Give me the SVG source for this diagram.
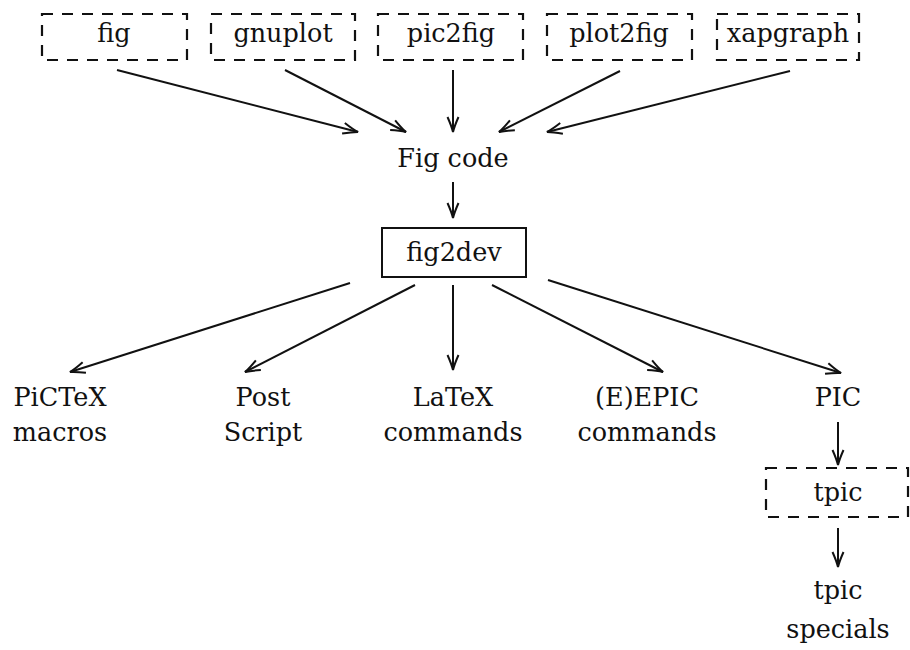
<svg xmlns="http://www.w3.org/2000/svg" width="910" height="650" viewBox="0 0 910 650">
<style>
text{font-family:"DejaVu Serif","Liberation Serif",serif;font-size:25.5px;fill:#111;text-anchor:middle}
.dash{fill:none;stroke:#111;stroke-width:2.2;stroke-dasharray:11 9}
.solid{fill:none;stroke:#111;stroke-width:2}
.conn line{stroke:#111;stroke-width:2;marker-end:url(#ah)}
</style>
<defs>
<marker id="ah" markerUnits="userSpaceOnUse" markerWidth="20" markerHeight="14" viewBox="-16 -7 18 14" refX="0" refY="0" orient="auto">
<path d="M-15,-5.5 Q-6,-1.5 0,0 Q-6,1.5 -15,5.5" fill="none" stroke="#111" stroke-width="2"/>
</marker>
</defs>
<rect width="910" height="650" fill="#fff"/>
<g id="fig"><rect class="dash" x="42" y="14" width="145" height="46"/><text x="114" y="42">fig</text></g>
<g id="gnuplot"><rect class="dash" x="211" y="14" width="144" height="46"/><text x="283" y="42">gnuplot</text></g>
<g id="pic2fig"><rect class="dash" x="378" y="14" width="145" height="46"/><text x="451" y="42">pic2fig</text></g>
<g id="plot2fig"><rect class="dash" x="547" y="14" width="145" height="46"/><text x="619" y="42">plot2fig</text></g>
<g id="xapgraph"><rect class="dash" x="717" y="14" width="142" height="46"/><text x="788" y="42">xapgraph</text></g>
<g id="figcode"><text x="453" y="167">Fig code</text></g>
<g id="fig2dev"><rect class="solid" x="382" y="228" width="144" height="49"/><text x="454" y="261">fig2dev</text></g>
<g id="pictex"><text x="60" y="406">PiCTeX</text><text x="60" y="441">macros</text></g>
<g id="postscript"><text x="263" y="406">Post</text><text x="263" y="441">Script</text></g>
<g id="latex"><text x="453" y="406">LaTeX</text><text x="453" y="441">commands</text></g>
<g id="epic"><text x="647" y="406">(E)EPIC</text><text x="647" y="441">commands</text></g>
<g id="pic"><text x="838" y="406">PIC</text></g>
<g id="tpic"><rect class="dash" x="766" y="468" width="142" height="49"/><text x="838" y="501">tpic</text></g>
<g id="tpicspecials"><text x="838" y="599">tpic</text><text x="838" y="638">specials</text></g>
<g id="connectors" class="conn">
<line x1="117" y1="70" x2="358" y2="132"/>
<line x1="285" y1="70" x2="406" y2="132"/>
<line x1="453" y1="70" x2="453" y2="132"/>
<line x1="620" y1="71" x2="499" y2="132"/>
<line x1="790" y1="71" x2="547" y2="132"/>
<line x1="453" y1="182" x2="453" y2="218"/>
<line x1="350" y1="283" x2="70" y2="372"/>
<line x1="415" y1="285" x2="245" y2="372"/>
<line x1="453" y1="285" x2="453" y2="370"/>
<line x1="492" y1="285" x2="663" y2="372"/>
<line x1="548" y1="280" x2="841" y2="373"/>
<line x1="838" y1="422" x2="838" y2="465"/>
<line x1="838" y1="528" x2="838" y2="567"/>
</g>
</svg>
